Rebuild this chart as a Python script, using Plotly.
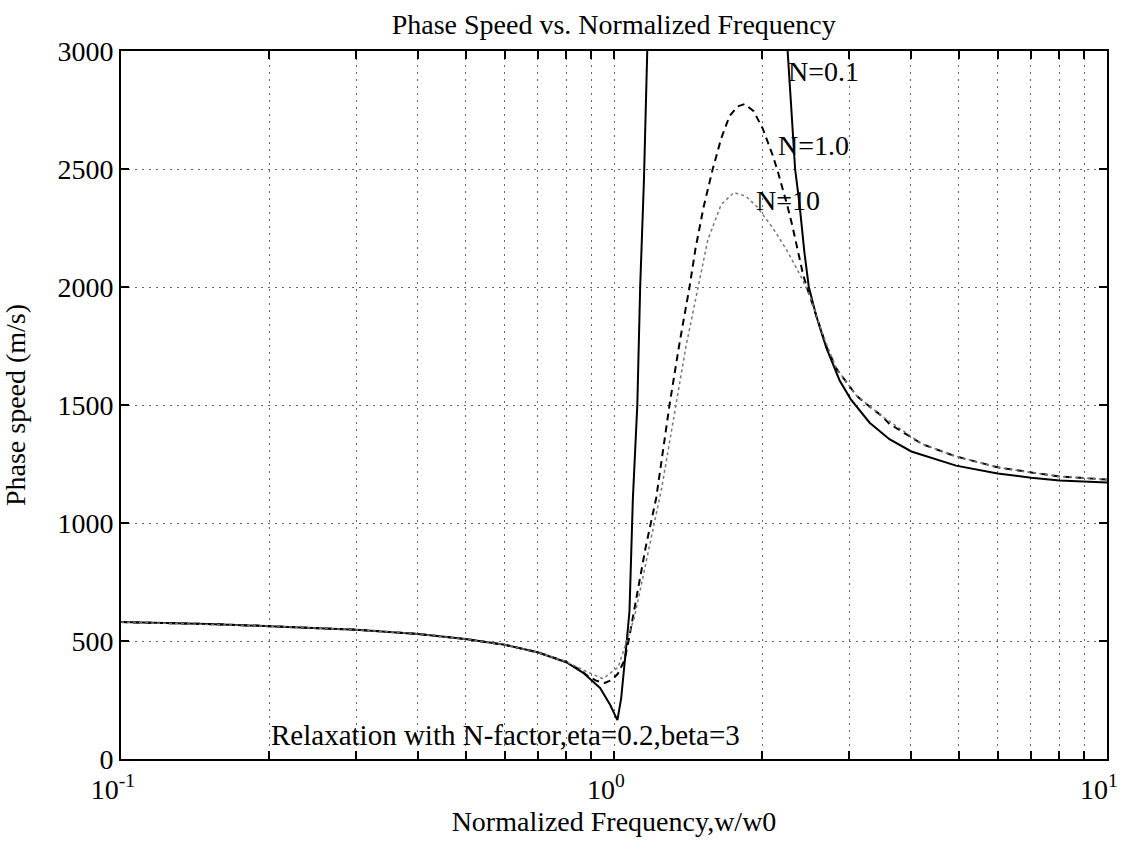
import math
import plotly.graph_objects as go

# ---------------- data ----------------
# N = 0.1 (solid) : left branch, then (off-chart) gap, then right branch
freq_n01 = [0.1, 0.15, 0.2, 0.3, 0.4, 0.5, 0.6, 0.7, 0.8, 0.866, 0.937, 0.982, 1.016,
            1.034, 1.058, 1.075, 1.092, 1.115, 1.13, 1.15, 1.168, 1.19,
            None,
            2.235, 2.25, 2.29, 2.33, 2.378, 2.434, 2.484, 2.57, 2.695, 2.867, 3.02,
            3.30, 3.62, 4.01, 4.94, 6.0, 7.02, 8.01, 10.0]
speed_n01 = [580, 572, 563, 548, 530, 508, 484, 452, 410, 365, 301, 230, 165,
             257, 470, 626, 1100, 1500, 2000, 2450, 3000, 3600,
             None,
             3300, 3000, 2750, 2500, 2352, 2145, 2000, 1880, 1743, 1605, 1525,
             1425, 1355, 1303, 1243, 1210, 1192, 1180, 1172]

# N = 1.0 (dashed)
freq_n1 = [0.1, 0.15, 0.2, 0.3, 0.4, 0.5, 0.6, 0.7, 0.8, 0.85, 0.885, 0.92, 0.957,
           0.99, 1.018, 1.05, 1.071, 1.092, 1.109, 1.16, 1.218, 1.296, 1.36, 1.423,
           1.463, 1.52, 1.586, 1.65, 1.715, 1.78, 1.84, 1.92, 2.004, 2.05, 2.1, 2.15,
           2.2, 2.25, 2.3, 2.36, 2.42, 2.47, 2.6, 2.7, 2.824, 3.10, 3.20, 3.50, 3.62,
           4.23, 4.94, 6.0, 7.02, 8.01, 10.0]
speed_n1 = [580, 572, 563, 548, 530, 508, 484, 452, 412, 380, 352, 332, 322,
            335, 361, 418, 503, 596, 682, 900, 1106, 1500, 1770, 2000,
            2162, 2340, 2500, 2630, 2724, 2765, 2775, 2745, 2670, 2615, 2556, 2488,
            2416, 2340, 2260, 2150, 2050, 1990, 1850, 1745, 1655, 1541, 1515, 1452, 1420,
            1333, 1282, 1236, 1214, 1197, 1184]

# N = 10 (dotted, faint in the reference)
freq_n10 = [0.1, 0.2, 0.3, 0.4, 0.5, 0.6, 0.7, 0.8, 0.87, 0.95, 1.02, 1.1, 1.25,
            1.4, 1.55, 1.65, 1.75, 1.85, 1.95, 2.1, 2.25, 2.4, 2.5, 2.65, 2.824,
            3.1, 3.5, 4.23, 4.94, 6.0, 7.02, 8.01, 10.0]
speed_n10 = [580, 563, 548, 530, 508, 484, 452, 412, 375, 340, 390, 600, 1150,
             1750, 2200, 2350, 2400, 2385, 2340, 2250, 2150, 2040, 1960, 1800, 1655,
             1541, 1452, 1333, 1282, 1236, 1214, 1197, 1184]

x_major_ticks = [0.1, 1, 10]
x_major_text = ["10<sup>-1</sup>", "10<sup>0</sup>", "10<sup>1</sup>"]
x_minor_ticks = [0.2, 0.3, 0.4, 0.5, 0.6, 0.7, 0.8, 0.9, 2, 3, 4, 5, 6, 7, 8, 9]
y_tick_vals = [0, 500, 1000, 1500, 2000, 2500, 3000]

curve_labels = [("N=0.1", 2.236, 2915), ("N=1.0", 2.133, 2600), ("N=10", 1.927, 2365)]
note_text = "Relaxation with N-factor,eta=0.2,beta=3"
note_pos = (0.2, 100)

# ---------------- figure ----------------
FONT = "Liberation Serif"
GRID = dict(gridcolor="#666666", gridwidth=1, griddash="2px,5px")

fig = go.Figure()
fig.add_trace(go.Scatter(x=freq_n01, y=speed_n01, mode="lines", name="N=0.1",
                         line=dict(color="black", width=2), connectgaps=False))
fig.add_trace(go.Scatter(x=freq_n1, y=speed_n1, mode="lines", name="N=1.0",
                         line=dict(color="black", width=2, dash="7px,5px")))
fig.add_trace(go.Scatter(x=freq_n10, y=speed_n10, mode="lines", name="N=10",
                         line=dict(color="#777777", width=1.5, dash="dot")))

for txt, fx, fy in curve_labels:
    fig.add_annotation(x=math.log10(fx), y=fy, text=txt, showarrow=False,
                       xanchor="left", yanchor="middle",
                       font=dict(family=FONT, size=28, color="black"))
fig.add_annotation(x=math.log10(note_pos[0]), y=note_pos[1], text=note_text,
                   showarrow=False, xanchor="left", yanchor="middle",
                   font=dict(family=FONT, size=29, color="black"))

fig.update_layout(
    width=1125, height=864,
    margin=dict(l=121, r=18, t=51, b=105),
    paper_bgcolor="white", plot_bgcolor="white",
    showlegend=False,
    font=dict(family=FONT, size=28, color="black"),
    title=dict(text="Phase Speed vs. Normalized Frequency", x=0.5455, xanchor="center",
               y=1 - 24 / 864, yanchor="middle",
               font=dict(family=FONT, size=28, color="black")),
)
fig.update_xaxes(
    type="log", range=[-1, 1], automargin=False,
    tickvals=x_major_ticks, ticktext=x_major_text,
    ticks="inside", ticklen=8, tickwidth=1.5, tickcolor="black",
    ticklabeloverflow="allow", ticklabelshift=-8, ticklabelstandoff=4,
    showline=True, linewidth=2, linecolor="black", mirror="ticks",
    showgrid=True, **GRID,
    minor=dict(tickvals=x_minor_ticks, ticks="inside", ticklen=8, tickwidth=1.5,
               tickcolor="black", showgrid=True, **GRID),
    zeroline=False,
    tickfont=dict(family=FONT, size=28, color="black"),
    title=dict(text="Normalized Frequency,w/w0", standoff=8,
               font=dict(family=FONT, size=28, color="black")),
)
fig.update_yaxes(
    range=[0, 3000], tickvals=y_tick_vals, automargin=False,
    ticks="inside", ticklen=8, tickwidth=1.5, tickcolor="black",
    showline=True, linewidth=2, linecolor="black", mirror="ticks",
    showgrid=True, **GRID,
    zeroline=False,
    tickfont=dict(family=FONT, size=28, color="black"),
    title=dict(text="Phase speed (m/s)", standoff=25,
               font=dict(family=FONT, size=28, color="black")),
)

fig.write_html("out.html")
